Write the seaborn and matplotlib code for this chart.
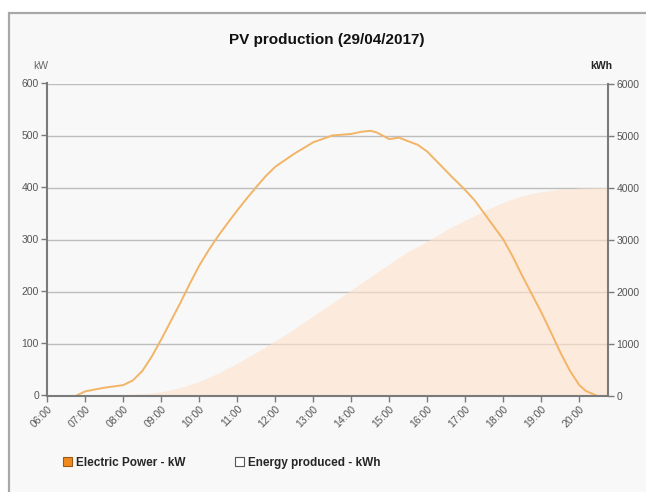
"""PV production chart: electric power (kW) and cumulative energy (kWh) for one day."""

import numpy as np
import pandas as pd
import matplotlib
matplotlib.use("Agg")
import matplotlib.pyplot as plt
from matplotlib.patches import Rectangle, Patch
import seaborn as sns

# ── Data ────────────────────────────────────────────────────────────────
power_times = [
    "06:46", "07:00", "07:30", "08:00", "08:15", "08:30", "08:45", "09:00",
    "09:15", "09:30", "09:45", "10:00", "10:15", "10:30", "10:45", "11:00",
    "11:15", "11:30", "11:45", "12:00", "12:30", "13:00", "13:30", "14:00",
    "14:15", "14:30", "14:40", "15:00", "15:15", "15:45", "16:00", "16:20",
    "16:40", "17:00", "17:15", "17:30", "17:45", "18:00", "18:15", "18:30",
    "18:45", "19:00", "19:15", "19:30", "19:45", "20:00", "20:10", "20:27",
]
power_kw = [
    0, 8, 15, 20, 29, 47, 75, 108,
    143, 178, 215, 250, 280, 307, 332, 356,
    379, 401, 422, 440, 465, 487, 500, 503,
    507, 509, 506, 493, 496, 482, 469, 444,
    419, 395, 375, 350, 325, 300, 267, 230,
    195, 160, 122, 83, 48, 20, 9, 0,
]

energy_times = [
    "06:46", "07:00", "08:00", "08:30", "09:00", "09:30", "10:00", "10:30",
    "11:00", "11:30", "12:00", "12:30", "13:00", "13:30", "14:00", "14:30",
    "15:00", "15:30", "16:00", "16:30", "17:00", "17:30", "18:00", "18:30",
    "19:00", "19:30", "20:00", "20:45",
]
energy_kwh = [
    0, 1, 15, 35, 70, 150, 270, 430,
    620, 830, 1050, 1280, 1530, 1780, 2030, 2280,
    2530, 2770, 2965, 3190, 3370, 3555, 3715, 3840,
    3920, 3965, 3990, 4000,
]

tick_labels = [f"{h:02d}:00" for h in range(6, 21)]
power_ticks = [0, 100, 200, 300, 400, 500, 600]
energy_ticks = [0, 1000, 2000, 3000, 4000, 5000, 6000]


def to_hours(times):
    t = pd.to_datetime(pd.Series(times), format="%H:%M")
    return (t.dt.hour + t.dt.minute / 60.0).to_numpy()


power_df = pd.DataFrame({"hour": to_hours(power_times), "kw": power_kw})
energy_df = pd.DataFrame({"hour": to_hours(energy_times), "kwh": energy_kwh})

sns.set_theme(style="white")
plt.rcParams["font.family"] = ["Liberation Sans", "DejaVu Sans"]

fig = plt.figure(figsize=(6.46, 4.92), dpi=100)
fig.patch.set_facecolor("white")

# grey frame around the chart panel
fig.patches.append(Rectangle((9 / 646, -0.05), 1.1, 1 - 13 / 492 + 0.05,
                             transform=fig.transFigure, facecolor="#F8F8F8",
                             edgecolor="#A8A8A8", linewidth=1.6, zorder=-5))

# right axis (energy) sits underneath and owns the grid
ax2 = fig.add_axes([47.3 / 646, 1 - 395.5 / 492, 561 / 646, 312 / 492])
ax = ax2.twinx()
ax2.yaxis.tick_right()
ax2.yaxis.set_label_position("right")
ax.yaxis.tick_left()
ax.yaxis.set_label_position("left")

ax2.set_facecolor("#F8F8F8")
ax2.set_axisbelow(True)
ax2.grid(axis="y", color="#BDBDBD", linewidth=1.0)
ax2.fill_between(energy_df["hour"], energy_df["kwh"], color="#FFE2CB", alpha=0.62,
                 linewidth=0)
ax2.set_ylim(0, 6000)
ax2.set_yticks(energy_ticks)

ax.set_zorder(ax2.get_zorder() + 1)
ax.patch.set_visible(False)
sns.lineplot(data=power_df, x="hour", y="kw", ax=ax, color="#F2B466",
             linewidth=1.4, legend=False)
ax.set_ylim(0, 600)
ax.set_yticks(power_ticks)
ax.set_xlim(6, 6 + 561 / 38.0)
ax.set_xlabel("")
ax.set_ylabel("")
ax2.set_ylabel("")

ax2.set_xticks(np.arange(6, 21))
ax2.set_xticklabels(tick_labels, rotation=45, ha="right", rotation_mode="anchor")

for a in (ax, ax2):
    for s in a.spines.values():
        s.set_visible(False)
ax.spines["left"].set_visible(True)
ax.spines["left"].set_color("#7A7A7A")
ax.spines["left"].set_linewidth(1.5)
ax2.spines["right"].set_visible(True)
ax2.spines["right"].set_color("#7A7A7A")
ax2.spines["right"].set_linewidth(1.5)
ax2.spines["bottom"].set_visible(True)
ax2.spines["bottom"].set_color("#7A7A7A")
ax2.spines["bottom"].set_linewidth(1.5)

tick_kw = dict(colors="#7A7A7A", labelcolor="#555555", labelsize=7.5,
               length=4, width=1.0, pad=2)
ax.tick_params(axis="y", left=True, right=False, **tick_kw)
ax.tick_params(axis="x", bottom=False, labelbottom=False)
ax2.tick_params(axis="y", right=True, left=False, **tick_kw)
ax2.tick_params(axis="x", bottom=True, **tick_kw)

fig.text(327 / 646, 1 - 40 / 492, "PV production (29/04/2017)", ha="center",
         va="center", fontsize=11, fontweight="bold", color="#111111")
fig.text(41 / 646, 1 - 66 / 492, "kW", ha="center", va="center", fontsize=7.5,
         color="#666666")
fig.text(601 / 646, 1 - 66 / 492, "kWh", ha="center", va="center", fontsize=7.5,
         fontweight="bold", color="#222222")

handles = [
    Patch(facecolor="#F08A1E", edgecolor="#9A5A1A", linewidth=0.8,
          label="Electric Power - kW"),
    Patch(facecolor="white", edgecolor="#555555", linewidth=0.8,
          label="Energy produced - kWh"),
]
fig.legend(handles=handles, loc="center left", ncol=2, frameon=False,
           bbox_to_anchor=(52 / 646, 1 - 463 / 492),
           handlelength=0.8, handleheight=0.8, handletextpad=0.3,
           columnspacing=4.2, prop={"weight": "bold", "size": 8.5})

fig.savefig("out.png", dpi=100, facecolor=fig.get_facecolor())
